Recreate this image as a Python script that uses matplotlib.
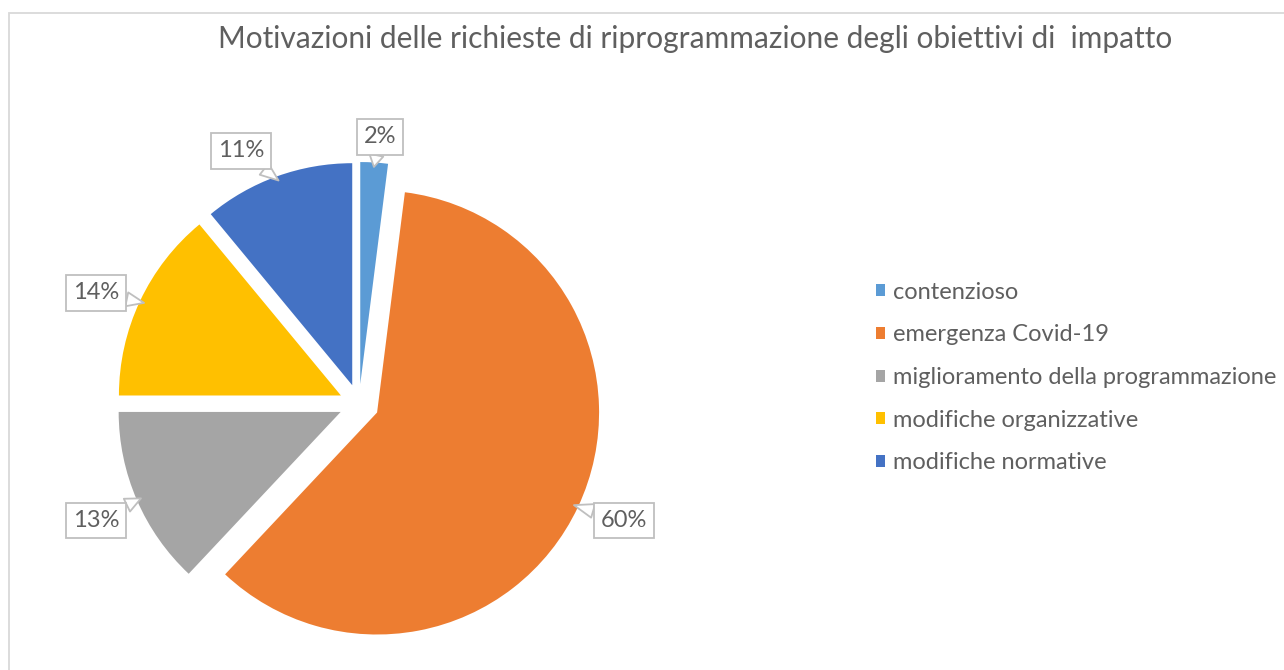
import matplotlib
matplotlib.use("Agg")
import matplotlib.pyplot as plt
from matplotlib.patches import Rectangle
import numpy as np

plt.rcParams['font.family'] = ['Lato', 'DejaVu Sans']

# data
categories = ['contenzioso',
              'emergenza Covid-19',
              'miglioramento della programmazione',
              'modifiche organizzative',
              'modifiche normative']
shares = [2, 60, 13, 14, 11]
colors = ['#5B9BD5', '#ED7D31', '#A5A5A5', '#FFC000', '#4472C4']
title = 'Motivazioni delle richieste di riprogrammazione degli obiettivi di  impatto'

# where the callout boxes sit (in pie radius units, relative to centre)
label_pos = [(0.095, 1.203), (1.194, -0.523), (-1.185, -0.523),
             (-1.185, 0.50), (-0.532, 1.140)]

W, H = 1284, 670
txt_col = '#5f5f5f'

fig = plt.figure(figsize=(W / 100, H / 100), dpi=100)

# light grey chart border
fig.patches.append(Rectangle((8.5 / W, -0.1), 1.2, 1 - 13.5 / H + 0.1,
                             transform=fig.transFigure, fill=False,
                             ec='#D9D9D9', lw=1.3))

cx, cy, R, k = 359, 404, 222, 1.6
ax = fig.add_axes([(cx - k * R) / W, 1 - (cy + k * R) / H, 2 * k * R / W, 2 * k * R / H])
wedges, _ = ax.pie(shares, colors=colors, startangle=90, counterclock=False,
                   explode=[0.09] * len(shares), radius=1,
                   wedgeprops=dict(linewidth=0))
ax.set_xlim(-k, k)
ax.set_ylim(-k, k)
ax.set_aspect('equal')
ax.axis('off')

for w, v, pos in zip(wedges, shares, label_pos):
    th = np.deg2rad((w.theta1 + w.theta2) / 2)
    tip = (w.center[0] + 0.98 * np.cos(th), w.center[1] + 0.98 * np.sin(th))
    ax.annotate(f'{v}%', xy=tip, xytext=pos, ha='center', va='center',
                fontsize=17, color=txt_col,
                bbox=dict(boxstyle='square,pad=0.3', fc='white', ec='#BFBFBF', lw=1.3),
                arrowprops=dict(arrowstyle='wedge,tail_width=0.6,shrink_factor=0.5',
                                fc='white', ec='#BFBFBF', lw=1.3,
                                shrinkA=0, shrinkB=0))

leg = ax.legend(wedges, categories, loc='center left',
                bbox_to_anchor=(876 / W, 1 - 377.5 / H), bbox_transform=fig.transFigure,
                frameon=False, fontsize=17, handlelength=0.4, handleheight=0.4,
                handletextpad=0.3, labelspacing=0.92, borderpad=0, borderaxespad=0)
for t in leg.get_texts():
    t.set_color(txt_col)

fig.text(695 / W, 1 - 39 / H, title, ha='center', va='center',
         fontsize=21.5, color=txt_col)

fig.savefig('out.png', dpi=100)
